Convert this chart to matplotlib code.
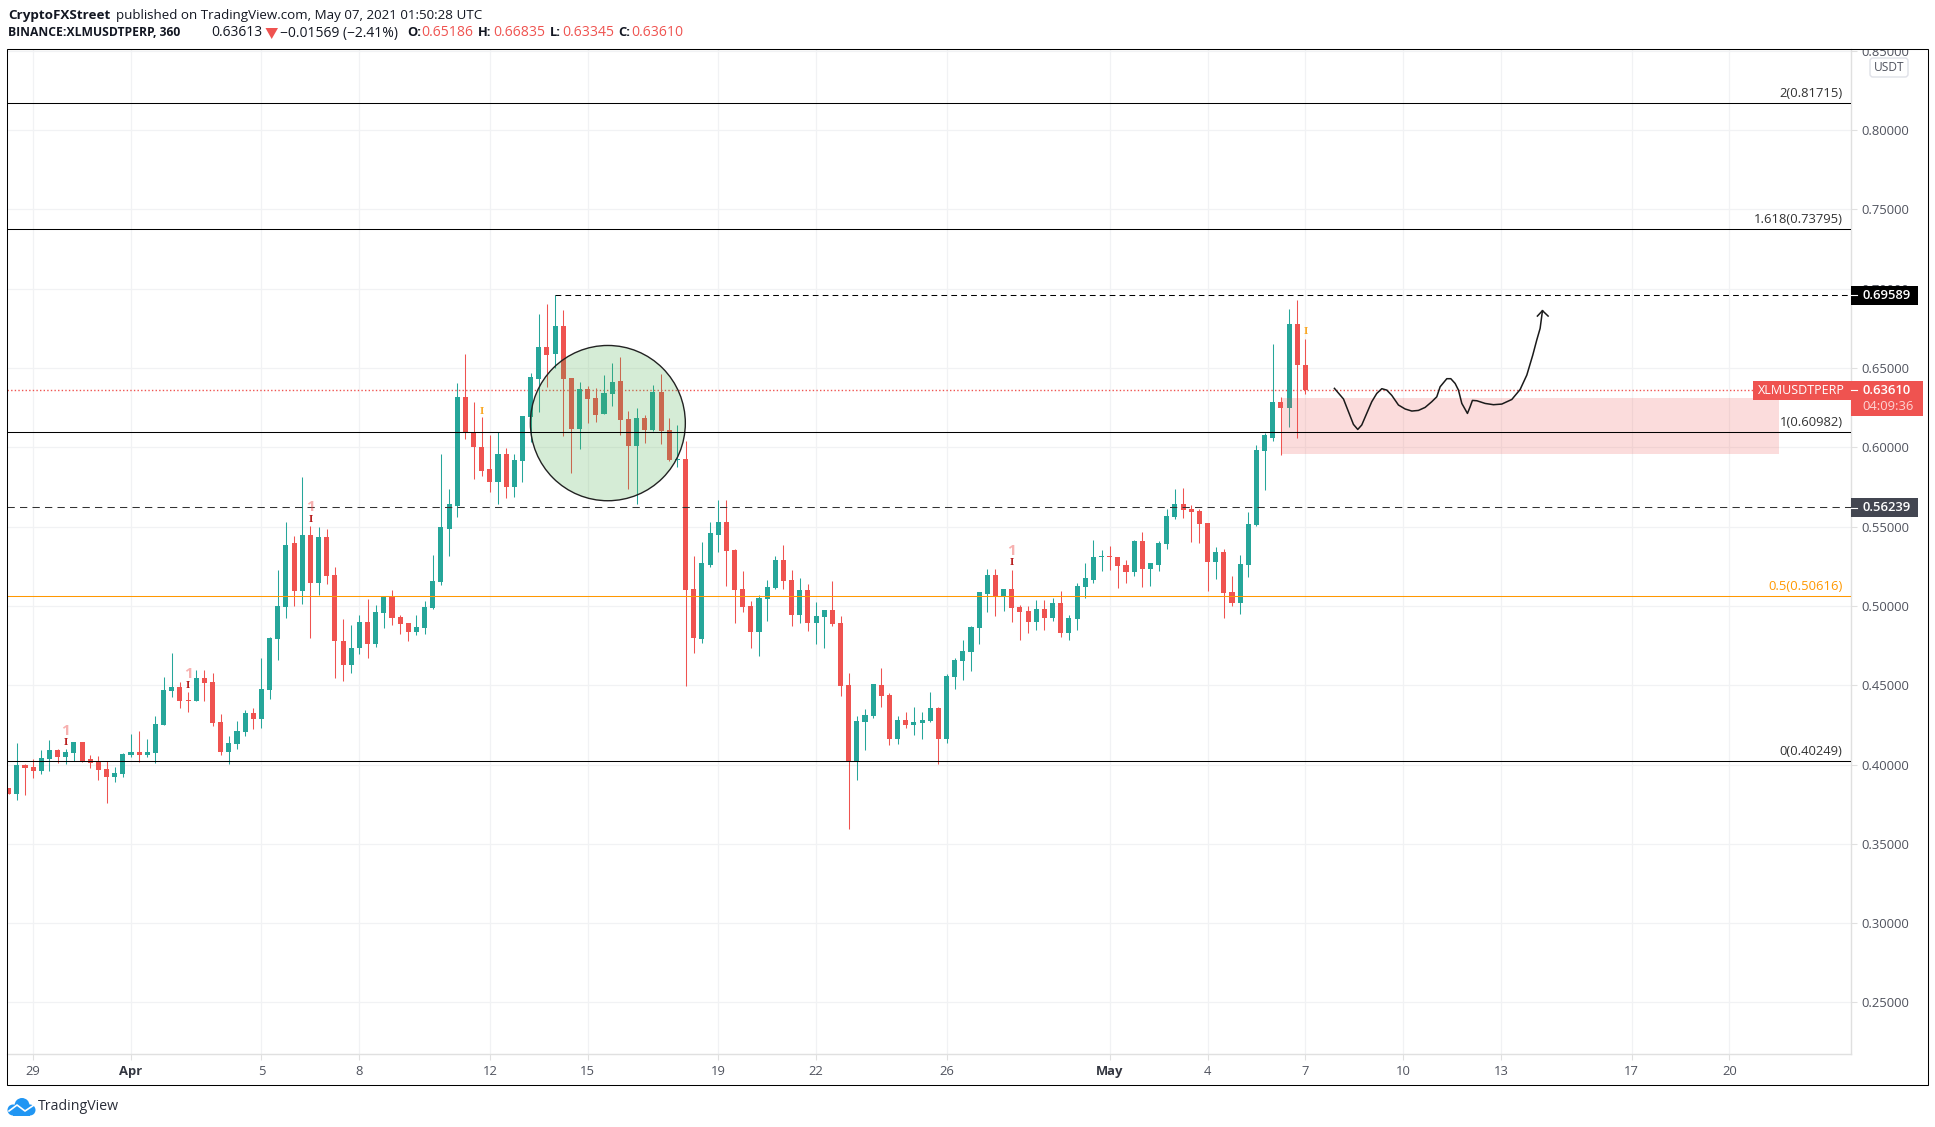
import matplotlib
matplotlib.use("Agg")
import matplotlib.pyplot as plt
from matplotlib.patches import Rectangle, Ellipse, FancyBboxPatch, Polygon, Circle

plt.rcParams['font.family'] = ['Open Sans', 'DejaVu Sans']

# 6h candles, first one is 28 Mar 18:00
opens = [.3855, .3815, .3995, .3982, .3957, .4034, .4090, .4045, .4072, .4140,
         .4034, .4014, .3971, .3919, .3939, .4059, .4077, .4059, .4072, .4248,
         .4463, .4488, .4404, .4400, .4547, .4519, .4267, .4077, .4129, .4203,
         .4325, .4287, .4470, .4793, .4994, .5394, .5095, .5450, .5147, .5432,
         .5197, .4779, .4628, .4736, .4899, .4761, .4958, .5059, .4930, .4894,
         .4836, .4863, .4989, .5152, .5488, .5633, .6317, .6098, .6003, .5861,
         .5780, .5956, .5749, .5911, .6191, .6431, .6634, .6589, .6765, .6437,
         .6114, .6367, .6311, .6209, .6336, .6417, .6178, .6006, .6184, .6108,
         .6349, .6108, .5918, .5925, .5109, .4793, .5261, .5450, .5532, .5356,
         .5109, .5001, .4836, .5046, .5116, .5292, .5166, .4945, .5103, .4895,
         .4931, .4976, .4895, .4502, .4025, .4267, .4305, .4502, .4439, .4161,
         .4281, .4249, .4262, .4274, .4357, .4161, .4551, .4653, .4710, .4863,
         .5078, .5196, .5061, .5108, .4994, .4969, .4899, .4981, .4925, .5019,
         .4830, .4918, .5120, .5165, .5306, .5310, .5310, .5260, .5215, .5411,
         .5234, .5260, .5392, .5563, .5645, .5614, .5601, .5525, .5279, .5342,
         .5089, .5019, .5260, .5512, .5980, .6062, .6284, .6246, .6777, .65186]
highs = [.3855, .4136, .4002, .4032, .4090, .4154, .4097, .4097, .4145, .4140,
         .4059, .4052, .4025, .3982, .4072, .4192, .4210, .4160, .4305, .4551,
         .4705, .4519, .4456, .4596, .4596, .4578, .4318, .4178, .4273, .4343,
         .4357, .4673, .4804, .5229, .5527, .5443, .5811, .5506, .5495, .5488,
         .5247, .4919, .4881, .4944, .5046, .5007, .5059, .5102, .4944, .4894,
         .4944, .5032, .5323, .5956, .5735, .6405, .6588, .6286, .6191, .6076,
         .6098, .5995, .5956, .6196, .6469, .6842, .6905, .6959, .6867, .6437,
         .6413, .6385, .6374, .6455, .6532, .6571, .6227, .6248, .6203, .6392,
         .6462, .6184, .6139, .6038, .5317, .5405, .5527, .5665, .5665, .5362,
         .5222, .5033, .5071, .5166, .5317, .5387, .5229, .5179, .5141, .5026,
         .4976, .5159, .4938, .4579, .4305, .4351, .4509, .4610, .4452, .4305,
         .4330, .4362, .4330, .4457, .4362, .4572, .4673, .4786, .4875, .5085,
         .5234, .5234, .5108, .5228, .5007, .5000, .5038, .5038, .5051, .5095,
         .4943, .5146, .5272, .5418, .5354, .5380, .5310, .5291, .5418, .5468,
         .5272, .5411, .5614, .5740, .5746, .5639, .5614, .5525, .5373, .5361,
         .5190, .5323, .5595, .6012, .6088, .6650, .6315, .6871, .6928, .66835]
lows = [.3815, .3776, .3808, .3914, .3941, .3957, .4009, .4002, .4025, .4014,
        .3977, .3901, .3756, .3887, .3921, .4045, .4014, .4045, .4009, .4248,
        .4425, .4357, .4330, .4400, .4400, .4242, .4059, .4002, .4097, .4178,
        .4224, .4230, .4413, .4659, .4926, .5001, .5014, .4799, .5071, .5141,
        .4547, .4526, .4578, .4698, .4673, .4741, .4863, .4881, .4824, .4779,
        .4818, .4824, .4982, .5134, .5317, .5563, .6051, .5798, .5818, .5721,
        .5646, .5679, .5685, .5780, .6033, .6223, .6381, .6498, .6069, .5837,
        .5988, .6153, .6160, .6209, .6259, .6076, .5735, .5640, .6026, .6101,
        .6020, .5911, .5875, .4495, .4705, .4768, .5243, .5342, .5127, .4895,
        .4963, .4737, .4685, .4906, .5109, .5109, .4875, .4895, .4843, .4762,
        .4737, .4875, .4432, .3592, .3901, .4091, .4294, .4362, .4122, .4129,
        .4231, .4186, .4161, .4267, .4003, .4136, .4477, .4533, .4590, .4762,
        .4962, .4937, .4969, .4899, .4785, .4830, .4849, .4849, .4906, .4804,
        .4785, .4849, .5051, .5146, .5222, .5228, .5114, .5146, .5190, .5120,
        .5127, .5222, .5361, .5550, .5557, .5405, .5399, .5095, .5171, .4925,
        .5000, .4950, .5184, .5506, .5734, .6037, .5955, .6126, .6062, .63345]
closes = [.3815, .3995, .3977, .3957, .4041, .4090, .4045, .4077, .4140, .4025,
          .4009, .3964, .3919, .3946, .4066, .4077, .4059, .4077, .4255, .4470,
          .4488, .4400, .4400, .4547, .4515, .4262, .4077, .4136, .4210, .4325,
          .4287, .4477, .4799, .5001, .5387, .5095, .5450, .5147, .5432, .5190,
          .4779, .4628, .4736, .4899, .4761, .4962, .5059, .4926, .4888, .4836,
          .4867, .4994, .5159, .5500, .5640, .6317, .6091, .6003, .5854, .5780,
          .5956, .5749, .5918, .6196, .6444, .6634, .6582, .6765, .6431, .6114,
          .6367, .6304, .6203, .6343, .6413, .6171, .6006, .6184, .6108, .6349,
          .6101, .5918, .5925, .5103, .4800, .5268, .5457, .5532, .5349, .5103,
          .4994, .4836, .5053, .5121, .5292, .5159, .4945, .5103, .4895, .4938,
          .4976, .4888, .4495, .4025, .4274, .4312, .4509, .4432, .4161, .4281,
          .4249, .4267, .4281, .4357, .4161, .4558, .4660, .4716, .4868, .5085,
          .5196, .5061, .5108, .4988, .4962, .4899, .4981, .4925, .5019, .4830,
          .4925, .5127, .5177, .5310, .5310, .5306, .5253, .5215, .5411, .5234,
          .5272, .5399, .5569, .5645, .5607, .5595, .5519, .5279, .5342, .5083,
          .5019, .5266, .5519, .5986, .6075, .6284, .6246, .6777, .6517, .63610]

price_ticks = [.25, .30, .35, .40, .45, .50, .55, .60, .65, .70, .75, .80, .85]
time_pos = [3, 15, 31, 43, 59, 71, 87, 99, 115, 135, 147, 159, 171, 183, 199, 211]
time_labels = ['29', 'Apr', '5', '8', '12', '15', '19', '22', '26', 'May', '4', '7', '10', '13', '17', '20']

fib_levels = [.81715, .73795, .60982, .50616, .40249]
fib_names = ['2', '1.618', '1', '0.5', '0']
fib_colors = ['black', 'black', 'black', '#ff9800', 'black']
last_price = .63610
top_level = .69589
mid_level = .56239

# hand drawn path after the last candle
sketch_bar = [162.56, 163.67, 164.28, 164.89, 165.42, 165.91, 166.61, 167.14, 167.75, 168.37,
              168.98, 169.59, 170.41, 171.23, 172.05, 172.86, 173.68, 174.50, 175.11, 175.52,
              176.34, 176.83, 177.36, 177.77, 178.18, 178.87, 179.20, 179.48, 180.02, 181.04,
              182.06, 183.08, 184.31, 185.33, 186.15, 186.88, 187.37, 187.78, 188.07]
sketch_price = [.6372, .6305, .6225, .6145, .6113, .6141, .6225, .6288, .6340, .6370,
                .6361, .6328, .6267, .6242, .6229, .6233, .6252, .6288, .6319, .6382,
                .6433, .6433, .6403, .6361, .6277, .6214, .6256, .6296, .6294, .6277,
                .6269, .6273, .6302, .6365, .6456, .6582, .6677, .6750, .6862]

# pink "1" marks and the little I marks under them
one_bars = [7, 22, 37, 123]
one_prices = [.4212, .4569, .5624, .5344]
mark_prices = [.4136, .4497, .5545, .5274]
orange_bars = [58, 159]
orange_prices = [.6227, .6732]

GREEN = '#26a69a'
RED = '#ef5350'
GRID = '#f1f2f4'
AXIS = '#e0e0e0'
TEXT = '#50535e'
W, H = 1935, 1127
LEFT, RIGHT, TOP, BOTTOM = 7.3, 1851, 49.3, 1054.3
THIN = 0.75

fig = plt.figure(figsize=(W / 100, H / 100), dpi=100, facecolor='white')
ax = fig.add_axes([LEFT / W, 1 - BOTTOM / H, (RIGHT - LEFT) / W, (BOTTOM - TOP) / H])
ax.set_xlim(-0.167, 225.9)
ax.set_ylim(.2173, .8510)

ax.set_yticks(price_ticks)
ax.set_yticklabels(['%.5f' % p for p in price_ticks])
ax.yaxis.tick_right()
ax.set_xticks(time_pos)
ax.set_xticklabels(time_labels)
ax.tick_params(axis='both', length=4.3, width=0.8, color=AXIS, labelcolor=TEXT, labelsize=9.4, pad=3.5)
for lab in ax.get_xticklabels():
    if lab.get_text() in ('Apr', 'May'):
        lab.set_fontweight('bold')
        lab.set_color('#333640')
ax.grid(True, color=GRID, linewidth=0.9, zorder=0)
ax.set_axisbelow(True)
for side in ('left', 'top'):
    ax.spines[side].set_visible(False)
for side in ('right', 'bottom'):
    ax.spines[side].set_color(AXIS)
    ax.spines[side].set_linewidth(1.0)

ax.axhline(last_price, color=RED, linestyle=(0, (1, 1.6)), linewidth=1.0, zorder=1)

for i in range(len(opens)):
    col = GREEN if closes[i] >= opens[i] else RED
    ax.vlines(i, lows[i], highs[i], color=col, linewidth=0.75, zorder=2)
    bot = min(opens[i], closes[i])
    ht = max(abs(closes[i] - opens[i]), .0008)
    ax.add_patch(Rectangle((i - .31, bot), .62, ht, facecolor=col, edgecolor='none', zorder=2))

# supply zone and the circle go over the candles
ax.add_patch(Rectangle((156, .5956), 217.1 - 156, .6309 - .5956, facecolor=RED, alpha=.2, edgecolor='none', zorder=3))
ax.add_patch(Ellipse((73.47, .6153), 19.0, .0979, facecolor=(.3, .69, .31, .23), edgecolor='#222222', linewidth=1.0, zorder=3))

for lvl, name, col in zip(fib_levels, fib_names, fib_colors):
    ax.axhline(lvl, color=col, linewidth=THIN, zorder=4)
    ax.annotate('%s(%.5f)' % (name, lvl), (1, lvl), xycoords=('axes fraction', 'data'), xytext=(-6, 2),
                textcoords='offset points', ha='right', va='bottom', fontsize=9.4,
                color=col if col != 'black' else '#333333', zorder=6)
ax.hlines(top_level, 67, 225.9, color='black', linewidth=THIN, linestyles=(0, (5.5, 4)), zorder=4)
ax.axhline(mid_level, color='#333333', linewidth=THIN, linestyle=(0, (7, 5)), zorder=4)

ax.plot(sketch_bar, sketch_price, color='#1a1a1a', linewidth=1.1, solid_joinstyle='round', zorder=5)
ax.plot([sketch_bar[-1] - .62, sketch_bar[-1], sketch_bar[-1] + .69],
        [sketch_price[-1] - .0034, sketch_price[-1], sketch_price[-1] - .0034],
        color='#1a1a1a', linewidth=1.1, zorder=5)

for b, p1, p2 in zip(one_bars, one_prices, mark_prices):
    ax.text(b, p1, '1', color=RED, alpha=.45, fontsize=11, fontweight='bold', ha='center', va='center', zorder=5)
    ax.text(b, p2, 'I', color='#b71c1c', fontsize=6.5, fontweight='bold', family='DejaVu Serif', ha='center', va='center', zorder=5)
for b, p in zip(orange_bars, orange_prices):
    ax.text(b, p, 'I', color='#f9a825', fontsize=6.5, fontweight='bold', family='DejaVu Serif', ha='center', va='center', zorder=5)

# overlay in pixels for the frame, price tags, header and logo
ov = fig.add_axes([0, 0, 1, 1], facecolor='none')
ov.set_xlim(0, W)
ov.set_ylim(H, 0)
ov.axis('off')

ov.add_patch(Rectangle((1855, 30), 70, 19, facecolor='white', edgecolor='none', zorder=1))
ov.add_patch(Rectangle((LEFT, TOP), 1927.7 - LEFT, 1085 - TOP, facecolor='none', edgecolor='black', linewidth=THIN, zorder=2))

ov.add_patch(FancyBboxPatch((1872, 60), 34, 15, boxstyle='round,pad=2,rounding_size=3',
                            facecolor='white', edgecolor='#dfe1e8', linewidth=1.0, zorder=3))
ov.text(1889, 67.5, 'USDT', fontsize=8.6, color=TEXT, ha='center', va='center', zorder=4)

def price_tag(y0, y1, x1, col, txt):
    ov.add_patch(Rectangle((RIGHT, y0), x1 - RIGHT, y1 - y0, facecolor=col, edgecolor='none', zorder=3))
    yc = y0 + 9.3
    ov.plot([RIGHT, RIGHT + 6], [yc, yc], color='white', linewidth=0.8, zorder=4)
    ov.text(1862.5, yc, txt, color='white', fontsize=9.4, fontweight='semibold', va='center', zorder=4)

price_tag(286, 305, 1917.5, 'black', '%.5f' % top_level)
price_tag(498.3, 516.7, 1917.5, '#434651', '%.5f' % mid_level)
price_tag(381, 415.7, 1922.7, RED, '%.5f' % last_price)
ov.add_patch(Rectangle((1753, 381), RIGHT - 1753, 19, facecolor=RED, edgecolor='none', zorder=3))
ov.text(1758, 390.3, 'XLMUSDTPERP', color='white', fontsize=9.0, va='center', zorder=4)
ov.text(1862.5, 407, '04:09:36', color='#fdd5d4', fontsize=9.4, va='center', zorder=4)

# header, sizes tuned per piece to land on the same widths
DARK = '#131722'
ov.text(8, 15, 'CryptoFXStreet', fontsize=9.7, fontweight='bold', color=DARK, va='center')
ov.text(115.5, 15, 'published on TradingView.com, May 07, 2021 01:50:28 UTC', fontsize=9.6, color=DARK, va='center')
ov.text(8, 33, 'BINANCE:XLMUSDTPERP, 360', fontsize=8.7, fontweight='bold', color=DARK, va='center')
ov.text(211.5, 33, '0.63613', fontsize=10.0, color=DARK, va='center')
ov.add_patch(Polygon([(265.5, 28), (278, 28), (271.7, 39)], facecolor=RED, edgecolor='none'))
ov.text(280, 33, '\u22120.01569 (\u22122.41%)', fontsize=10.0, color=DARK, va='center')
for lab, lx, val, vx in [('O:', 407, .65186, 421.5), ('H:', 478, .66835, 493.5),
                         ('L:', 549.5, .63345, 562), ('C:', 618.5, .63610, 631)]:
    ov.text(lx, 33, lab, fontsize=9.3, fontweight='bold', color=DARK, va='center')
    ov.text(vx, 33, '%.5f' % val, fontsize=10.1, color=RED, va='center')

# TradingView logo, rough cloud
BLUE = '#2196f3'
for cx, cy, r in [(13, 1110, 5.5), (22, 1105.5, 7.5), (30, 1110, 5.5)]:
    ov.add_patch(Circle((cx, cy), r, facecolor=BLUE, edgecolor='none'))
ov.add_patch(Rectangle((13, 1108), 17, 7.5, facecolor=BLUE, edgecolor='none'))
ov.plot([9, 17, 25, 34], [1111, 1105, 1111, 1105], color='white', linewidth=1.2)
ov.text(38, 1106.5, 'TradingView', fontsize=10.2, color='#2a2e39', va='center')

fig.savefig('out.png', dpi=100)
